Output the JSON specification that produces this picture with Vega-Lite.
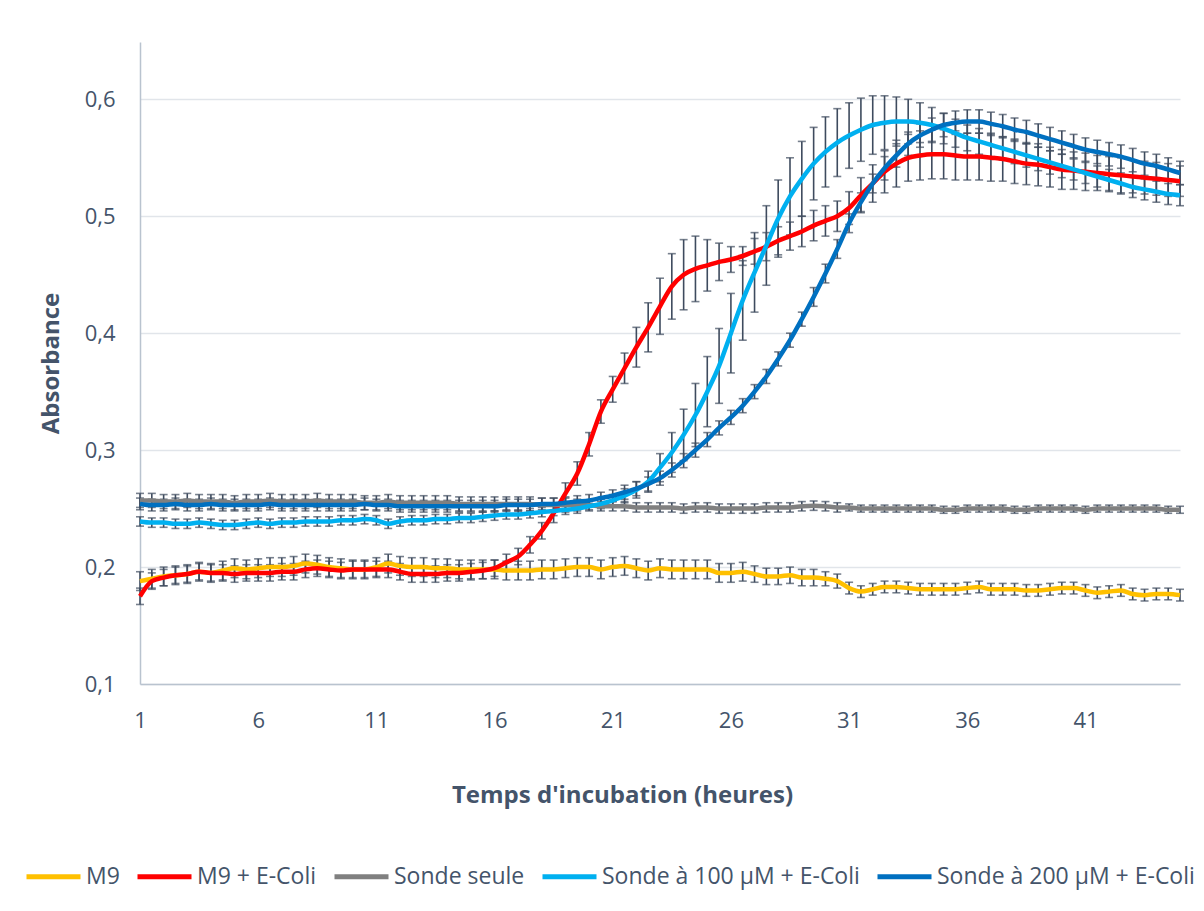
{
"$schema":"https://vega.github.io/schema/vega-lite/v6.json",
"width":1040,"height":642,
"autosize":{"type":"none"},
"padding":{"left":140,"top":42,"right":24,"bottom":227},
"background":"white",
"config":{"view":{"stroke":null},"font":"Open Sans"},
"datasets":{"d":[
{"s":"M9","t":1,"y":0.188,"e":0.008},{"s":"M9","t":1.5,"y":0.190,"e":0.008},{"s":"M9","t":2,"y":0.192,"e":0.008},{"s":"M9","t":2.5,"y":0.193,"e":0.008},{"s":"M9","t":3,"y":0.194,"e":0.008},{"s":"M9","t":3.5,"y":0.196,"e":0.008},{"s":"M9","t":4,"y":0.195,"e":0.008},{"s":"M9","t":4.5,"y":0.197,"e":0.008},{"s":"M9","t":5,"y":0.199,"e":0.008},{"s":"M9","t":5.5,"y":0.198,"e":0.008},{"s":"M9","t":6,"y":0.199,"e":0.008},{"s":"M9","t":6.5,"y":0.200,"e":0.008},{"s":"M9","t":7,"y":0.200,"e":0.008},{"s":"M9","t":7.5,"y":0.201,"e":0.008},{"s":"M9","t":8,"y":0.203,"e":0.008},{"s":"M9","t":8.5,"y":0.202,"e":0.008},{"s":"M9","t":9,"y":0.200,"e":0.008},{"s":"M9","t":9.5,"y":0.199,"e":0.008},{"s":"M9","t":10,"y":0.198,"e":0.008},{"s":"M9","t":10.5,"y":0.198,"e":0.008},{"s":"M9","t":11,"y":0.200,"e":0.008},{"s":"M9","t":11.5,"y":0.203,"e":0.008},{"s":"M9","t":12,"y":0.201,"e":0.008},{"s":"M9","t":12.5,"y":0.200,"e":0.008},{"s":"M9","t":13,"y":0.200,"e":0.008},{"s":"M9","t":13.5,"y":0.199,"e":0.008},{"s":"M9","t":14,"y":0.199,"e":0.008},{"s":"M9","t":14.5,"y":0.198,"e":0.008},{"s":"M9","t":15,"y":0.198,"e":0.008},{"s":"M9","t":15.5,"y":0.198,"e":0.008},{"s":"M9","t":16,"y":0.198,"e":0.008},{"s":"M9","t":16.5,"y":0.197,"e":0.008},{"s":"M9","t":17,"y":0.197,"e":0.008},{"s":"M9","t":17.5,"y":0.197,"e":0.008},{"s":"M9","t":18,"y":0.198,"e":0.008},{"s":"M9","t":18.5,"y":0.198,"e":0.008},{"s":"M9","t":19,"y":0.199,"e":0.008},{"s":"M9","t":19.5,"y":0.200,"e":0.008},{"s":"M9","t":20,"y":0.200,"e":0.008},{"s":"M9","t":20.5,"y":0.198,"e":0.008},{"s":"M9","t":21,"y":0.200,"e":0.008},{"s":"M9","t":21.5,"y":0.201,"e":0.008},{"s":"M9","t":22,"y":0.199,"e":0.008},{"s":"M9","t":22.5,"y":0.197,"e":0.008},{"s":"M9","t":23,"y":0.199,"e":0.008},{"s":"M9","t":23.5,"y":0.198,"e":0.008},{"s":"M9","t":24,"y":0.198,"e":0.008},{"s":"M9","t":24.5,"y":0.198,"e":0.008},{"s":"M9","t":25,"y":0.198,"e":0.008},{"s":"M9","t":25.5,"y":0.195,"e":0.008},{"s":"M9","t":26,"y":0.195,"e":0.008},{"s":"M9","t":26.5,"y":0.196,"e":0.008},{"s":"M9","t":27,"y":0.194,"e":0.007},{"s":"M9","t":27.5,"y":0.192,"e":0.007},{"s":"M9","t":28,"y":0.192,"e":0.007},{"s":"M9","t":28.5,"y":0.193,"e":0.007},{"s":"M9","t":29,"y":0.191,"e":0.007},{"s":"M9","t":29.5,"y":0.191,"e":0.007},{"s":"M9","t":30,"y":0.190,"e":0.006},{"s":"M9","t":30.5,"y":0.188,"e":0.006},{"s":"M9","t":31,"y":0.182,"e":0.005},{"s":"M9","t":31.5,"y":0.179,"e":0.005},{"s":"M9","t":32,"y":0.181,"e":0.005},{"s":"M9","t":32.5,"y":0.183,"e":0.005},{"s":"M9","t":33,"y":0.183,"e":0.005},{"s":"M9","t":33.5,"y":0.182,"e":0.005},{"s":"M9","t":34,"y":0.181,"e":0.005},{"s":"M9","t":34.5,"y":0.181,"e":0.005},{"s":"M9","t":35,"y":0.181,"e":0.005},{"s":"M9","t":35.5,"y":0.181,"e":0.005},{"s":"M9","t":36,"y":0.182,"e":0.005},{"s":"M9","t":36.5,"y":0.183,"e":0.005},{"s":"M9","t":37,"y":0.181,"e":0.005},{"s":"M9","t":37.5,"y":0.181,"e":0.005},{"s":"M9","t":38,"y":0.181,"e":0.005},{"s":"M9","t":38.5,"y":0.180,"e":0.005},{"s":"M9","t":39,"y":0.180,"e":0.005},{"s":"M9","t":39.5,"y":0.181,"e":0.005},{"s":"M9","t":40,"y":0.182,"e":0.005},{"s":"M9","t":40.5,"y":0.182,"e":0.005},{"s":"M9","t":41,"y":0.180,"e":0.005},{"s":"M9","t":41.5,"y":0.178,"e":0.005},{"s":"M9","t":42,"y":0.179,"e":0.005},{"s":"M9","t":42.5,"y":0.180,"e":0.005},{"s":"M9","t":43,"y":0.177,"e":0.005},{"s":"M9","t":43.5,"y":0.176,"e":0.005},{"s":"M9","t":44,"y":0.177,"e":0.005},{"s":"M9","t":44.5,"y":0.177,"e":0.005},{"s":"M9","t":45,"y":0.176,"e":0.005},
{"s":"M9 + E-Coli","t":1,"y":0.175,"e":0.007},{"s":"M9 + E-Coli","t":1.5,"y":0.188,"e":0.007},{"s":"M9 + E-Coli","t":2,"y":0.191,"e":0.007},{"s":"M9 + E-Coli","t":2.5,"y":0.193,"e":0.007},{"s":"M9 + E-Coli","t":3,"y":0.194,"e":0.007},{"s":"M9 + E-Coli","t":3.5,"y":0.196,"e":0.007},{"s":"M9 + E-Coli","t":4,"y":0.195,"e":0.007},{"s":"M9 + E-Coli","t":4.5,"y":0.195,"e":0.007},{"s":"M9 + E-Coli","t":5,"y":0.194,"e":0.007},{"s":"M9 + E-Coli","t":5.5,"y":0.195,"e":0.007},{"s":"M9 + E-Coli","t":6,"y":0.195,"e":0.007},{"s":"M9 + E-Coli","t":6.5,"y":0.195,"e":0.007},{"s":"M9 + E-Coli","t":7,"y":0.196,"e":0.007},{"s":"M9 + E-Coli","t":7.5,"y":0.196,"e":0.007},{"s":"M9 + E-Coli","t":8,"y":0.198,"e":0.007},{"s":"M9 + E-Coli","t":8.5,"y":0.199,"e":0.007},{"s":"M9 + E-Coli","t":9,"y":0.198,"e":0.007},{"s":"M9 + E-Coli","t":9.5,"y":0.197,"e":0.007},{"s":"M9 + E-Coli","t":10,"y":0.198,"e":0.007},{"s":"M9 + E-Coli","t":10.5,"y":0.198,"e":0.007},{"s":"M9 + E-Coli","t":11,"y":0.198,"e":0.007},{"s":"M9 + E-Coli","t":11.5,"y":0.198,"e":0.007},{"s":"M9 + E-Coli","t":12,"y":0.196,"e":0.007},{"s":"M9 + E-Coli","t":12.5,"y":0.194,"e":0.007},{"s":"M9 + E-Coli","t":13,"y":0.194,"e":0.007},{"s":"M9 + E-Coli","t":13.5,"y":0.194,"e":0.007},{"s":"M9 + E-Coli","t":14,"y":0.195,"e":0.007},{"s":"M9 + E-Coli","t":14.5,"y":0.195,"e":0.007},{"s":"M9 + E-Coli","t":15,"y":0.196,"e":0.007},{"s":"M9 + E-Coli","t":15.5,"y":0.197,"e":0.007},{"s":"M9 + E-Coli","t":16,"y":0.199,"e":0.007},{"s":"M9 + E-Coli","t":16.5,"y":0.204,"e":0.007},{"s":"M9 + E-Coli","t":17,"y":0.209,"e":0.007},{"s":"M9 + E-Coli","t":17.5,"y":0.219,"e":0.007},{"s":"M9 + E-Coli","t":18,"y":0.231,"e":0.007},{"s":"M9 + E-Coli","t":18.5,"y":0.246,"e":0.008},{"s":"M9 + E-Coli","t":19,"y":0.263,"e":0.009},{"s":"M9 + E-Coli","t":19.5,"y":0.280,"e":0.010},{"s":"M9 + E-Coli","t":20,"y":0.305,"e":0.010},{"s":"M9 + E-Coli","t":20.5,"y":0.333,"e":0.010},{"s":"M9 + E-Coli","t":21,"y":0.352,"e":0.011},{"s":"M9 + E-Coli","t":21.5,"y":0.370,"e":0.013},{"s":"M9 + E-Coli","t":22,"y":0.388,"e":0.017},{"s":"M9 + E-Coli","t":22.5,"y":0.405,"e":0.021},{"s":"M9 + E-Coli","t":23,"y":0.423,"e":0.024},{"s":"M9 + E-Coli","t":23.5,"y":0.440,"e":0.028},{"s":"M9 + E-Coli","t":24,"y":0.450,"e":0.030},{"s":"M9 + E-Coli","t":24.5,"y":0.455,"e":0.028},{"s":"M9 + E-Coli","t":25,"y":0.458,"e":0.022},{"s":"M9 + E-Coli","t":25.5,"y":0.461,"e":0.016},{"s":"M9 + E-Coli","t":26,"y":0.463,"e":0.011},{"s":"M9 + E-Coli","t":26.5,"y":0.466,"e":0.008},{"s":"M9 + E-Coli","t":27,"y":0.470,"e":0.011},{"s":"M9 + E-Coli","t":27.5,"y":0.474,"e":0.012},{"s":"M9 + E-Coli","t":28,"y":0.479,"e":0.012},{"s":"M9 + E-Coli","t":28.5,"y":0.483,"e":0.012},{"s":"M9 + E-Coli","t":29,"y":0.487,"e":0.013},{"s":"M9 + E-Coli","t":29.5,"y":0.492,"e":0.013},{"s":"M9 + E-Coli","t":30,"y":0.496,"e":0.013},{"s":"M9 + E-Coli","t":30.5,"y":0.500,"e":0.013},{"s":"M9 + E-Coli","t":31,"y":0.507,"e":0.014},{"s":"M9 + E-Coli","t":31.5,"y":0.518,"e":0.015},{"s":"M9 + E-Coli","t":32,"y":0.528,"e":0.016},{"s":"M9 + E-Coli","t":32.5,"y":0.538,"e":0.018},{"s":"M9 + E-Coli","t":33,"y":0.545,"e":0.020},{"s":"M9 + E-Coli","t":33.5,"y":0.550,"e":0.020},{"s":"M9 + E-Coli","t":34,"y":0.552,"e":0.021},{"s":"M9 + E-Coli","t":34.5,"y":0.553,"e":0.021},{"s":"M9 + E-Coli","t":35,"y":0.553,"e":0.021},{"s":"M9 + E-Coli","t":35.5,"y":0.552,"e":0.021},{"s":"M9 + E-Coli","t":36,"y":0.551,"e":0.020},{"s":"M9 + E-Coli","t":36.5,"y":0.551,"e":0.020},{"s":"M9 + E-Coli","t":37,"y":0.550,"e":0.020},{"s":"M9 + E-Coli","t":37.5,"y":0.549,"e":0.019},{"s":"M9 + E-Coli","t":38,"y":0.547,"e":0.019},{"s":"M9 + E-Coli","t":38.5,"y":0.545,"e":0.018},{"s":"M9 + E-Coli","t":39,"y":0.544,"e":0.018},{"s":"M9 + E-Coli","t":39.5,"y":0.542,"e":0.017},{"s":"M9 + E-Coli","t":40,"y":0.540,"e":0.017},{"s":"M9 + E-Coli","t":40.5,"y":0.539,"e":0.016},{"s":"M9 + E-Coli","t":41,"y":0.538,"e":0.016},{"s":"M9 + E-Coli","t":41.5,"y":0.537,"e":0.015},{"s":"M9 + E-Coli","t":42,"y":0.536,"e":0.015},{"s":"M9 + E-Coli","t":42.5,"y":0.535,"e":0.015},{"s":"M9 + E-Coli","t":43,"y":0.534,"e":0.014},{"s":"M9 + E-Coli","t":43.5,"y":0.533,"e":0.014},{"s":"M9 + E-Coli","t":44,"y":0.532,"e":0.014},{"s":"M9 + E-Coli","t":44.5,"y":0.531,"e":0.014},{"s":"M9 + E-Coli","t":45,"y":0.530,"e":0.013},
{"s":"Sonde seule","t":1,"y":0.257,"e":0.006},{"s":"Sonde seule","t":1.5,"y":0.257,"e":0.006},{"s":"Sonde seule","t":2,"y":0.256,"e":0.006},{"s":"Sonde seule","t":2.5,"y":0.256,"e":0.006},{"s":"Sonde seule","t":3,"y":0.257,"e":0.006},{"s":"Sonde seule","t":3.5,"y":0.256,"e":0.006},{"s":"Sonde seule","t":4,"y":0.256,"e":0.006},{"s":"Sonde seule","t":4.5,"y":0.256,"e":0.006},{"s":"Sonde seule","t":5,"y":0.255,"e":0.006},{"s":"Sonde seule","t":5.5,"y":0.256,"e":0.006},{"s":"Sonde seule","t":6,"y":0.256,"e":0.006},{"s":"Sonde seule","t":6.5,"y":0.257,"e":0.006},{"s":"Sonde seule","t":7,"y":0.256,"e":0.006},{"s":"Sonde seule","t":7.5,"y":0.256,"e":0.006},{"s":"Sonde seule","t":8,"y":0.256,"e":0.006},{"s":"Sonde seule","t":8.5,"y":0.257,"e":0.006},{"s":"Sonde seule","t":9,"y":0.256,"e":0.006},{"s":"Sonde seule","t":9.5,"y":0.256,"e":0.006},{"s":"Sonde seule","t":10,"y":0.256,"e":0.006},{"s":"Sonde seule","t":10.5,"y":0.255,"e":0.006},{"s":"Sonde seule","t":11,"y":0.255,"e":0.006},{"s":"Sonde seule","t":11.5,"y":0.256,"e":0.006},{"s":"Sonde seule","t":12,"y":0.255,"e":0.006},{"s":"Sonde seule","t":12.5,"y":0.255,"e":0.006},{"s":"Sonde seule","t":13,"y":0.255,"e":0.006},{"s":"Sonde seule","t":13.5,"y":0.255,"e":0.006},{"s":"Sonde seule","t":14,"y":0.255,"e":0.006},{"s":"Sonde seule","t":14.5,"y":0.254,"e":0.006},{"s":"Sonde seule","t":15,"y":0.254,"e":0.006},{"s":"Sonde seule","t":15.5,"y":0.254,"e":0.006},{"s":"Sonde seule","t":16,"y":0.254,"e":0.006},{"s":"Sonde seule","t":16.5,"y":0.254,"e":0.006},{"s":"Sonde seule","t":17,"y":0.254,"e":0.006},{"s":"Sonde seule","t":17.5,"y":0.254,"e":0.006},{"s":"Sonde seule","t":18,"y":0.253,"e":0.006},{"s":"Sonde seule","t":18.5,"y":0.253,"e":0.006},{"s":"Sonde seule","t":19,"y":0.253,"e":0.006},{"s":"Sonde seule","t":19.5,"y":0.253,"e":0.005},{"s":"Sonde seule","t":20,"y":0.253,"e":0.004},{"s":"Sonde seule","t":20.5,"y":0.252,"e":0.004},{"s":"Sonde seule","t":21,"y":0.252,"e":0.004},{"s":"Sonde seule","t":21.5,"y":0.252,"e":0.004},{"s":"Sonde seule","t":22,"y":0.251,"e":0.004},{"s":"Sonde seule","t":22.5,"y":0.251,"e":0.004},{"s":"Sonde seule","t":23,"y":0.251,"e":0.004},{"s":"Sonde seule","t":23.5,"y":0.251,"e":0.004},{"s":"Sonde seule","t":24,"y":0.250,"e":0.004},{"s":"Sonde seule","t":24.5,"y":0.251,"e":0.004},{"s":"Sonde seule","t":25,"y":0.251,"e":0.004},{"s":"Sonde seule","t":25.5,"y":0.250,"e":0.004},{"s":"Sonde seule","t":26,"y":0.250,"e":0.004},{"s":"Sonde seule","t":26.5,"y":0.250,"e":0.004},{"s":"Sonde seule","t":27,"y":0.250,"e":0.004},{"s":"Sonde seule","t":27.5,"y":0.251,"e":0.004},{"s":"Sonde seule","t":28,"y":0.251,"e":0.004},{"s":"Sonde seule","t":28.5,"y":0.251,"e":0.004},{"s":"Sonde seule","t":29,"y":0.252,"e":0.004},{"s":"Sonde seule","t":29.5,"y":0.2525,"e":0.004},{"s":"Sonde seule","t":30,"y":0.252,"e":0.004},{"s":"Sonde seule","t":30.5,"y":0.251,"e":0.004},{"s":"Sonde seule","t":31,"y":0.251,"e":0.003},{"s":"Sonde seule","t":31.5,"y":0.250,"e":0.003},{"s":"Sonde seule","t":32,"y":0.250,"e":0.003},{"s":"Sonde seule","t":32.5,"y":0.250,"e":0.003},{"s":"Sonde seule","t":33,"y":0.250,"e":0.003},{"s":"Sonde seule","t":33.5,"y":0.250,"e":0.003},{"s":"Sonde seule","t":34,"y":0.250,"e":0.003},{"s":"Sonde seule","t":34.5,"y":0.250,"e":0.003},{"s":"Sonde seule","t":35,"y":0.249,"e":0.003},{"s":"Sonde seule","t":35.5,"y":0.249,"e":0.003},{"s":"Sonde seule","t":36,"y":0.250,"e":0.003},{"s":"Sonde seule","t":36.5,"y":0.250,"e":0.003},{"s":"Sonde seule","t":37,"y":0.250,"e":0.003},{"s":"Sonde seule","t":37.5,"y":0.250,"e":0.003},{"s":"Sonde seule","t":38,"y":0.249,"e":0.003},{"s":"Sonde seule","t":38.5,"y":0.249,"e":0.003},{"s":"Sonde seule","t":39,"y":0.250,"e":0.003},{"s":"Sonde seule","t":39.5,"y":0.250,"e":0.003},{"s":"Sonde seule","t":40,"y":0.250,"e":0.003},{"s":"Sonde seule","t":40.5,"y":0.250,"e":0.003},{"s":"Sonde seule","t":41,"y":0.249,"e":0.003},{"s":"Sonde seule","t":41.5,"y":0.250,"e":0.003},{"s":"Sonde seule","t":42,"y":0.250,"e":0.003},{"s":"Sonde seule","t":42.5,"y":0.250,"e":0.003},{"s":"Sonde seule","t":43,"y":0.250,"e":0.003},{"s":"Sonde seule","t":43.5,"y":0.250,"e":0.003},{"s":"Sonde seule","t":44,"y":0.250,"e":0.003},{"s":"Sonde seule","t":44.5,"y":0.249,"e":0.003},{"s":"Sonde seule","t":45,"y":0.249,"e":0.003},
{"s":"Sonde à 100 µM + E-Coli","t":1,"y":0.239,"e":0.004},{"s":"Sonde à 100 µM + E-Coli","t":1.5,"y":0.238,"e":0.004},{"s":"Sonde à 100 µM + E-Coli","t":2,"y":0.238,"e":0.004},{"s":"Sonde à 100 µM + E-Coli","t":2.5,"y":0.237,"e":0.004},{"s":"Sonde à 100 µM + E-Coli","t":3,"y":0.237,"e":0.004},{"s":"Sonde à 100 µM + E-Coli","t":3.5,"y":0.238,"e":0.004},{"s":"Sonde à 100 µM + E-Coli","t":4,"y":0.237,"e":0.004},{"s":"Sonde à 100 µM + E-Coli","t":4.5,"y":0.236,"e":0.004},{"s":"Sonde à 100 µM + E-Coli","t":5,"y":0.236,"e":0.004},{"s":"Sonde à 100 µM + E-Coli","t":5.5,"y":0.237,"e":0.004},{"s":"Sonde à 100 µM + E-Coli","t":6,"y":0.238,"e":0.004},{"s":"Sonde à 100 µM + E-Coli","t":6.5,"y":0.237,"e":0.004},{"s":"Sonde à 100 µM + E-Coli","t":7,"y":0.238,"e":0.004},{"s":"Sonde à 100 µM + E-Coli","t":7.5,"y":0.238,"e":0.004},{"s":"Sonde à 100 µM + E-Coli","t":8,"y":0.239,"e":0.004},{"s":"Sonde à 100 µM + E-Coli","t":8.5,"y":0.239,"e":0.004},{"s":"Sonde à 100 µM + E-Coli","t":9,"y":0.239,"e":0.004},{"s":"Sonde à 100 µM + E-Coli","t":9.5,"y":0.240,"e":0.004},{"s":"Sonde à 100 µM + E-Coli","t":10,"y":0.240,"e":0.004},{"s":"Sonde à 100 µM + E-Coli","t":10.5,"y":0.241,"e":0.004},{"s":"Sonde à 100 µM + E-Coli","t":11,"y":0.240,"e":0.004},{"s":"Sonde à 100 µM + E-Coli","t":11.5,"y":0.237,"e":0.004},{"s":"Sonde à 100 µM + E-Coli","t":12,"y":0.239,"e":0.004},{"s":"Sonde à 100 µM + E-Coli","t":12.5,"y":0.240,"e":0.004},{"s":"Sonde à 100 µM + E-Coli","t":13,"y":0.240,"e":0.004},{"s":"Sonde à 100 µM + E-Coli","t":13.5,"y":0.241,"e":0.004},{"s":"Sonde à 100 µM + E-Coli","t":14,"y":0.241,"e":0.004},{"s":"Sonde à 100 µM + E-Coli","t":14.5,"y":0.242,"e":0.004},{"s":"Sonde à 100 µM + E-Coli","t":15,"y":0.242,"e":0.004},{"s":"Sonde à 100 µM + E-Coli","t":15.5,"y":0.243,"e":0.004},{"s":"Sonde à 100 µM + E-Coli","t":16,"y":0.244,"e":0.004},{"s":"Sonde à 100 µM + E-Coli","t":16.5,"y":0.245,"e":0.004},{"s":"Sonde à 100 µM + E-Coli","t":17,"y":0.245,"e":0.004},{"s":"Sonde à 100 µM + E-Coli","t":17.5,"y":0.246,"e":0.004},{"s":"Sonde à 100 µM + E-Coli","t":18,"y":0.247,"e":0.004},{"s":"Sonde à 100 µM + E-Coli","t":18.5,"y":0.248,"e":0.004},{"s":"Sonde à 100 µM + E-Coli","t":19,"y":0.249,"e":0.004},{"s":"Sonde à 100 µM + E-Coli","t":19.5,"y":0.250,"e":0.004},{"s":"Sonde à 100 µM + E-Coli","t":20,"y":0.252,"e":0.004},{"s":"Sonde à 100 µM + E-Coli","t":20.5,"y":0.254,"e":0.004},{"s":"Sonde à 100 µM + E-Coli","t":21,"y":0.257,"e":0.005},{"s":"Sonde à 100 µM + E-Coli","t":21.5,"y":0.261,"e":0.006},{"s":"Sonde à 100 µM + E-Coli","t":22,"y":0.266,"e":0.007},{"s":"Sonde à 100 µM + E-Coli","t":22.5,"y":0.273,"e":0.009},{"s":"Sonde à 100 µM + E-Coli","t":23,"y":0.285,"e":0.012},{"s":"Sonde à 100 µM + E-Coli","t":23.5,"y":0.298,"e":0.017},{"s":"Sonde à 100 µM + E-Coli","t":24,"y":0.313,"e":0.022},{"s":"Sonde à 100 µM + E-Coli","t":24.5,"y":0.330,"e":0.027},{"s":"Sonde à 100 µM + E-Coli","t":25,"y":0.350,"e":0.030},{"s":"Sonde à 100 µM + E-Coli","t":25.5,"y":0.372,"e":0.032},{"s":"Sonde à 100 µM + E-Coli","t":26,"y":0.400,"e":0.034},{"s":"Sonde à 100 µM + E-Coli","t":26.5,"y":0.428,"e":0.034},{"s":"Sonde à 100 µM + E-Coli","t":27,"y":0.452,"e":0.034},{"s":"Sonde à 100 µM + E-Coli","t":27.5,"y":0.475,"e":0.034},{"s":"Sonde à 100 µM + E-Coli","t":28,"y":0.498,"e":0.033},{"s":"Sonde à 100 µM + E-Coli","t":28.5,"y":0.517,"e":0.033},{"s":"Sonde à 100 µM + E-Coli","t":29,"y":0.532,"e":0.032},{"s":"Sonde à 100 µM + E-Coli","t":29.5,"y":0.545,"e":0.031},{"s":"Sonde à 100 µM + E-Coli","t":30,"y":0.555,"e":0.030},{"s":"Sonde à 100 µM + E-Coli","t":30.5,"y":0.563,"e":0.029},{"s":"Sonde à 100 µM + E-Coli","t":31,"y":0.569,"e":0.028},{"s":"Sonde à 100 µM + E-Coli","t":31.5,"y":0.574,"e":0.027},{"s":"Sonde à 100 µM + E-Coli","t":32,"y":0.578,"e":0.025},{"s":"Sonde à 100 µM + E-Coli","t":32.5,"y":0.580,"e":0.023},{"s":"Sonde à 100 µM + E-Coli","t":33,"y":0.581,"e":0.021},{"s":"Sonde à 100 µM + E-Coli","t":33.5,"y":0.581,"e":0.019},{"s":"Sonde à 100 µM + E-Coli","t":34,"y":0.580,"e":0.017},{"s":"Sonde à 100 µM + E-Coli","t":34.5,"y":0.578,"e":0.015},{"s":"Sonde à 100 µM + E-Coli","t":35,"y":0.575,"e":0.013},{"s":"Sonde à 100 µM + E-Coli","t":35.5,"y":0.571,"e":0.012},{"s":"Sonde à 100 µM + E-Coli","t":36,"y":0.567,"e":0.011},{"s":"Sonde à 100 µM + E-Coli","t":36.5,"y":0.564,"e":0.011},{"s":"Sonde à 100 µM + E-Coli","t":37,"y":0.561,"e":0.010},{"s":"Sonde à 100 µM + E-Coli","t":37.5,"y":0.558,"e":0.010},{"s":"Sonde à 100 µM + E-Coli","t":38,"y":0.555,"e":0.010},{"s":"Sonde à 100 µM + E-Coli","t":38.5,"y":0.552,"e":0.010},{"s":"Sonde à 100 µM + E-Coli","t":39,"y":0.549,"e":0.010},{"s":"Sonde à 100 µM + E-Coli","t":39.5,"y":0.546,"e":0.010},{"s":"Sonde à 100 µM + E-Coli","t":40,"y":0.543,"e":0.010},{"s":"Sonde à 100 µM + E-Coli","t":40.5,"y":0.540,"e":0.009},{"s":"Sonde à 100 µM + E-Coli","t":41,"y":0.537,"e":0.009},{"s":"Sonde à 100 µM + E-Coli","t":41.5,"y":0.534,"e":0.009},{"s":"Sonde à 100 µM + E-Coli","t":42,"y":0.531,"e":0.009},{"s":"Sonde à 100 µM + E-Coli","t":42.5,"y":0.528,"e":0.009},{"s":"Sonde à 100 µM + E-Coli","t":43,"y":0.525,"e":0.009},{"s":"Sonde à 100 µM + E-Coli","t":43.5,"y":0.523,"e":0.009},{"s":"Sonde à 100 µM + E-Coli","t":44,"y":0.521,"e":0.009},{"s":"Sonde à 100 µM + E-Coli","t":44.5,"y":0.519,"e":0.009},{"s":"Sonde à 100 µM + E-Coli","t":45,"y":0.518,"e":0.009},
{"s":"Sonde à 200 µM + E-Coli","t":1,"y":0.254,"e":0.005},{"s":"Sonde à 200 µM + E-Coli","t":1.5,"y":0.253,"e":0.005},{"s":"Sonde à 200 µM + E-Coli","t":2,"y":0.253,"e":0.005},{"s":"Sonde à 200 µM + E-Coli","t":2.5,"y":0.254,"e":0.005},{"s":"Sonde à 200 µM + E-Coli","t":3,"y":0.253,"e":0.005},{"s":"Sonde à 200 µM + E-Coli","t":3.5,"y":0.253,"e":0.005},{"s":"Sonde à 200 µM + E-Coli","t":4,"y":0.254,"e":0.005},{"s":"Sonde à 200 µM + E-Coli","t":4.5,"y":0.253,"e":0.005},{"s":"Sonde à 200 µM + E-Coli","t":5,"y":0.253,"e":0.005},{"s":"Sonde à 200 µM + E-Coli","t":5.5,"y":0.253,"e":0.005},{"s":"Sonde à 200 µM + E-Coli","t":6,"y":0.253,"e":0.005},{"s":"Sonde à 200 µM + E-Coli","t":6.5,"y":0.254,"e":0.005},{"s":"Sonde à 200 µM + E-Coli","t":7,"y":0.253,"e":0.005},{"s":"Sonde à 200 µM + E-Coli","t":7.5,"y":0.253,"e":0.005},{"s":"Sonde à 200 µM + E-Coli","t":8,"y":0.253,"e":0.005},{"s":"Sonde à 200 µM + E-Coli","t":8.5,"y":0.253,"e":0.005},{"s":"Sonde à 200 µM + E-Coli","t":9,"y":0.253,"e":0.005},{"s":"Sonde à 200 µM + E-Coli","t":9.5,"y":0.253,"e":0.005},{"s":"Sonde à 200 µM + E-Coli","t":10,"y":0.253,"e":0.005},{"s":"Sonde à 200 µM + E-Coli","t":10.5,"y":0.254,"e":0.005},{"s":"Sonde à 200 µM + E-Coli","t":11,"y":0.253,"e":0.005},{"s":"Sonde à 200 µM + E-Coli","t":11.5,"y":0.253,"e":0.005},{"s":"Sonde à 200 µM + E-Coli","t":12,"y":0.252,"e":0.005},{"s":"Sonde à 200 µM + E-Coli","t":12.5,"y":0.252,"e":0.005},{"s":"Sonde à 200 µM + E-Coli","t":13,"y":0.252,"e":0.005},{"s":"Sonde à 200 µM + E-Coli","t":13.5,"y":0.252,"e":0.005},{"s":"Sonde à 200 µM + E-Coli","t":14,"y":0.252,"e":0.005},{"s":"Sonde à 200 µM + E-Coli","t":14.5,"y":0.252,"e":0.005},{"s":"Sonde à 200 µM + E-Coli","t":15,"y":0.252,"e":0.005},{"s":"Sonde à 200 µM + E-Coli","t":15.5,"y":0.252,"e":0.005},{"s":"Sonde à 200 µM + E-Coli","t":16,"y":0.252,"e":0.005},{"s":"Sonde à 200 µM + E-Coli","t":16.5,"y":0.253,"e":0.005},{"s":"Sonde à 200 µM + E-Coli","t":17,"y":0.253,"e":0.005},{"s":"Sonde à 200 µM + E-Coli","t":17.5,"y":0.253,"e":0.005},{"s":"Sonde à 200 µM + E-Coli","t":18,"y":0.254,"e":0.005},{"s":"Sonde à 200 µM + E-Coli","t":18.5,"y":0.254,"e":0.005},{"s":"Sonde à 200 µM + E-Coli","t":19,"y":0.255,"e":0.005},{"s":"Sonde à 200 µM + E-Coli","t":19.5,"y":0.256,"e":0.005},{"s":"Sonde à 200 µM + E-Coli","t":20,"y":0.257,"e":0.005},{"s":"Sonde à 200 µM + E-Coli","t":20.5,"y":0.259,"e":0.005},{"s":"Sonde à 200 µM + E-Coli","t":21,"y":0.261,"e":0.005},{"s":"Sonde à 200 µM + E-Coli","t":21.5,"y":0.264,"e":0.006},{"s":"Sonde à 200 µM + E-Coli","t":22,"y":0.267,"e":0.006},{"s":"Sonde à 200 µM + E-Coli","t":22.5,"y":0.271,"e":0.006},{"s":"Sonde à 200 µM + E-Coli","t":23,"y":0.276,"e":0.006},{"s":"Sonde à 200 µM + E-Coli","t":23.5,"y":0.283,"e":0.006},{"s":"Sonde à 200 µM + E-Coli","t":24,"y":0.291,"e":0.006},{"s":"Sonde à 200 µM + E-Coli","t":24.5,"y":0.300,"e":0.006},{"s":"Sonde à 200 µM + E-Coli","t":25,"y":0.309,"e":0.006},{"s":"Sonde à 200 µM + E-Coli","t":25.5,"y":0.319,"e":0.006},{"s":"Sonde à 200 µM + E-Coli","t":26,"y":0.328,"e":0.006},{"s":"Sonde à 200 µM + E-Coli","t":26.5,"y":0.338,"e":0.006},{"s":"Sonde à 200 µM + E-Coli","t":27,"y":0.350,"e":0.006},{"s":"Sonde à 200 µM + E-Coli","t":27.5,"y":0.363,"e":0.006},{"s":"Sonde à 200 µM + E-Coli","t":28,"y":0.378,"e":0.006},{"s":"Sonde à 200 µM + E-Coli","t":28.5,"y":0.394,"e":0.006},{"s":"Sonde à 200 µM + E-Coli","t":29,"y":0.412,"e":0.006},{"s":"Sonde à 200 µM + E-Coli","t":29.5,"y":0.431,"e":0.008},{"s":"Sonde à 200 µM + E-Coli","t":30,"y":0.451,"e":0.008},{"s":"Sonde à 200 µM + E-Coli","t":30.5,"y":0.472,"e":0.008},{"s":"Sonde à 200 µM + E-Coli","t":31,"y":0.494,"e":0.008},{"s":"Sonde à 200 µM + E-Coli","t":31.5,"y":0.512,"e":0.008},{"s":"Sonde à 200 µM + E-Coli","t":32,"y":0.528,"e":0.008},{"s":"Sonde à 200 µM + E-Coli","t":32.5,"y":0.541,"e":0.010},{"s":"Sonde à 200 µM + E-Coli","t":33,"y":0.552,"e":0.010},{"s":"Sonde à 200 µM + E-Coli","t":33.5,"y":0.562,"e":0.010},{"s":"Sonde à 200 µM + E-Coli","t":34,"y":0.569,"e":0.010},{"s":"Sonde à 200 µM + E-Coli","t":34.5,"y":0.574,"e":0.010},{"s":"Sonde à 200 µM + E-Coli","t":35,"y":0.578,"e":0.010},{"s":"Sonde à 200 µM + E-Coli","t":35.5,"y":0.580,"e":0.010},{"s":"Sonde à 200 µM + E-Coli","t":36,"y":0.581,"e":0.010},{"s":"Sonde à 200 µM + E-Coli","t":36.5,"y":0.581,"e":0.010},{"s":"Sonde à 200 µM + E-Coli","t":37,"y":0.579,"e":0.010},{"s":"Sonde à 200 µM + E-Coli","t":37.5,"y":0.577,"e":0.010},{"s":"Sonde à 200 µM + E-Coli","t":38,"y":0.574,"e":0.010},{"s":"Sonde à 200 µM + E-Coli","t":38.5,"y":0.572,"e":0.010},{"s":"Sonde à 200 µM + E-Coli","t":39,"y":0.569,"e":0.010},{"s":"Sonde à 200 µM + E-Coli","t":39.5,"y":0.566,"e":0.010},{"s":"Sonde à 200 µM + E-Coli","t":40,"y":0.563,"e":0.010},{"s":"Sonde à 200 µM + E-Coli","t":40.5,"y":0.560,"e":0.010},{"s":"Sonde à 200 µM + E-Coli","t":41,"y":0.557,"e":0.010},{"s":"Sonde à 200 µM + E-Coli","t":41.5,"y":0.555,"e":0.010},{"s":"Sonde à 200 µM + E-Coli","t":42,"y":0.553,"e":0.010},{"s":"Sonde à 200 µM + E-Coli","t":42.5,"y":0.551,"e":0.010},{"s":"Sonde à 200 µM + E-Coli","t":43,"y":0.548,"e":0.010},{"s":"Sonde à 200 µM + E-Coli","t":43.5,"y":0.545,"e":0.010},{"s":"Sonde à 200 µM + E-Coli","t":44,"y":0.543,"e":0.010},{"s":"Sonde à 200 µM + E-Coli","t":44.5,"y":0.540,"e":0.010},{"s":"Sonde à 200 µM + E-Coli","t":45,"y":0.537,"e":0.010}
]},
"data":{"name":"d"},
"encoding":{
 "x":{"field":"t","type":"quantitative","scale":{"domain":[1,45],"nice":false,"zero":false},
  "axis":{"values":[1,6,11,16,21,26,31,36,41],"format":"d","title":"Temps d'incubation (heures)","titleFontSize":24,"titleFontWeight":"bold","titleColor":"#44546A","titleX":482,"titlePadding":52,"labelFontSize":22,"labelColor":"#44546A","labelPadding":26,"labelFlush":false,"labelOverlap":false,"ticks":false,"grid":false,"domainColor":"#B9C3CF","domainWidth":1.5}},
 "y":{"field":"y","type":"quantitative","scale":{"domain":[0.1,0.649],"nice":false,"zero":false},
  "axis":{"values":[0.1,0.2,0.3,0.4,0.5,0.6],"labelExpr":"replace(format(datum.value,'.1f'),'.',',')","title":"Absorbance","titleFontSize":24,"titleFontWeight":"bold","titleColor":"#44546A","titlePadding":21,"labelFontSize":22,"labelColor":"#44546A","labelPadding":25,"ticks":false,"grid":true,"gridColor":"#E1E5EA","gridWidth":1.5,"domainColor":"#B9C3CF","domainWidth":1.5}}
},
"layer":[
 {"mark":{"type":"errorbar","ticks":true,"size":8,"thickness":1.6,"color":"#3E4B5E"},
  "encoding":{"yError":{"field":"e"}}},
 {"mark":{"type":"line","interpolate":"monotone","strokeWidth":4.5},
  "encoding":{"color":{"field":"s","type":"nominal",
    "scale":{"domain":["M9","M9 + E-Coli","Sonde seule","Sonde à 100 µM + E-Coli","Sonde à 200 µM + E-Coli"],"range":["#FFC000","#FF0000","#808080","#00B0F0","#0070C0"]},
    "legend":{"orient":"none","legendX":-116,"legendY":805,"direction":"horizontal","title":null,"symbolType":"stroke","symbolSize":2916,"symbolStrokeWidth":5,"labelFontSize":23,"labelColor":"#44546A","labelLimit":400,"columnPadding":7,"labelOffset":3}}}}
]
}
